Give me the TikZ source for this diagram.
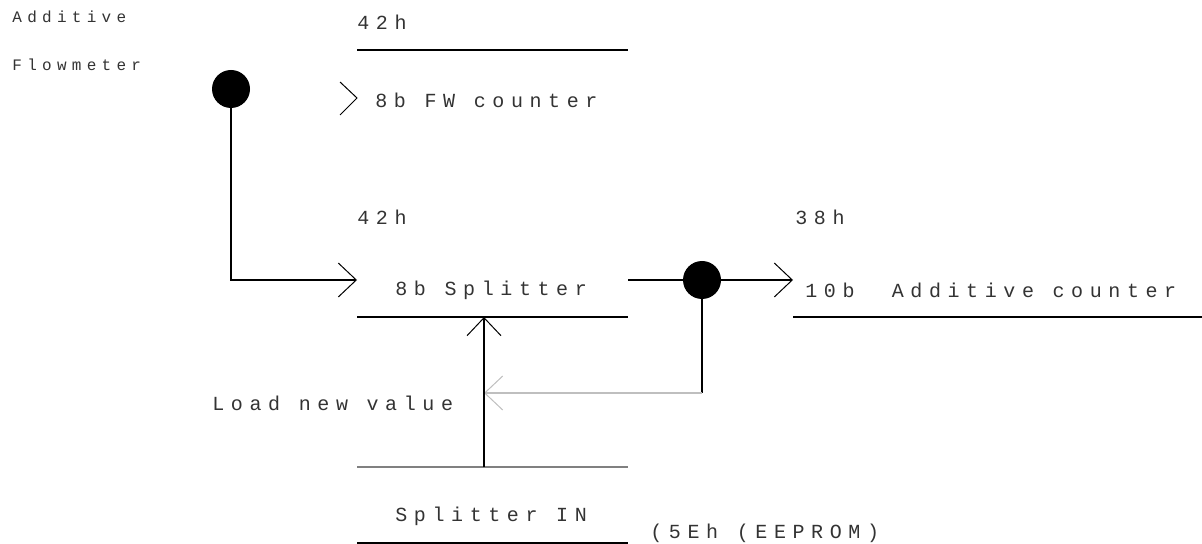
\documentclass[tikz,border=0pt]{standalone}
\usepackage{fontspec}
\setmonofont[LetterSpace=33]{Liberation Mono}
\usetikzlibrary{arrows.meta}
\tikzset{
  lbl/.style={font=\ttfamily\fontsize{10}{12}\selectfont,anchor=west,inner sep=0pt,text=black!80},
  small/.style={lbl,font=\ttfamily\fontsize{8}{10}\selectfont},
  barb/.style={-{Straight Barb[length=9pt,width=17pt,line width=0.5pt]}},
  wire/.style={line width=0.9pt},
  dot/.style={circle,fill=black,minimum size=19pt,inner sep=0pt}
}
\begin{document}
\begin{tikzpicture}[x=0.5pt,y=-0.5pt]
\useasboundingbox (0,0) rectangle (1202,544);
% labels
\node[small] (add) at (12,17) {Additive};
\node[small] (flow) at (12,65) {Flowmeter};
\node[lbl] (regA) at (357,22) {42h};
\node[lbl] (fwcnt) at (375,100) {8b FW counter};
\node[lbl] (regB) at (357,217) {42h};
\node[lbl] (split) at (395,290) {8b Splitter};
\node[lbl] (regC) at (795,217) {38h};
\node[lbl] (addcnt) at (805,290) {10b\ \ Additive counter};
\node[lbl] (load) at (212,403) {Load new value};
\node[lbl] (splin) at (395,516) {Splitter IN};
\node[lbl] (eep) at (650,533) {(5Eh (EEPROM)};
% register lines
\draw[wire] (357,50) -- (628,50);
\draw[wire] (357,317) -- (628,317);
\draw[wire] (793,317) -- (1202,317);
\draw[wire,black!50] (357,467) -- (628,467);
\draw[wire] (357,543) -- (628,543);
\draw[line width=0.5pt] (340,82) -- (357,98) -- (340,115);
% dots and connections
\node[dot] (d1) at (231,89) {};
\node[dot] (d2) at (702,280) {};
\coordinate (splIn) at (357,280);
\coordinate (splOut) at (628,280);
\coordinate (cntIn) at (793,280);
\coordinate (fb) at (484,393);
\coordinate (inTop) at (484,317);
\coordinate (inBot) at (484,467);
\draw[wire,barb] (d1.center) |- (splIn);
\draw[wire] (splOut) -- (d2.center);
\draw[wire,barb] (d2.center) -- (cntIn);
\draw[wire] (d2.center) -- (702,393);
\draw[wire,black!25,barb] (702,393) -- (fb);
\draw[wire,barb] (inBot) -- (inTop);
\end{tikzpicture}
\end{document}
